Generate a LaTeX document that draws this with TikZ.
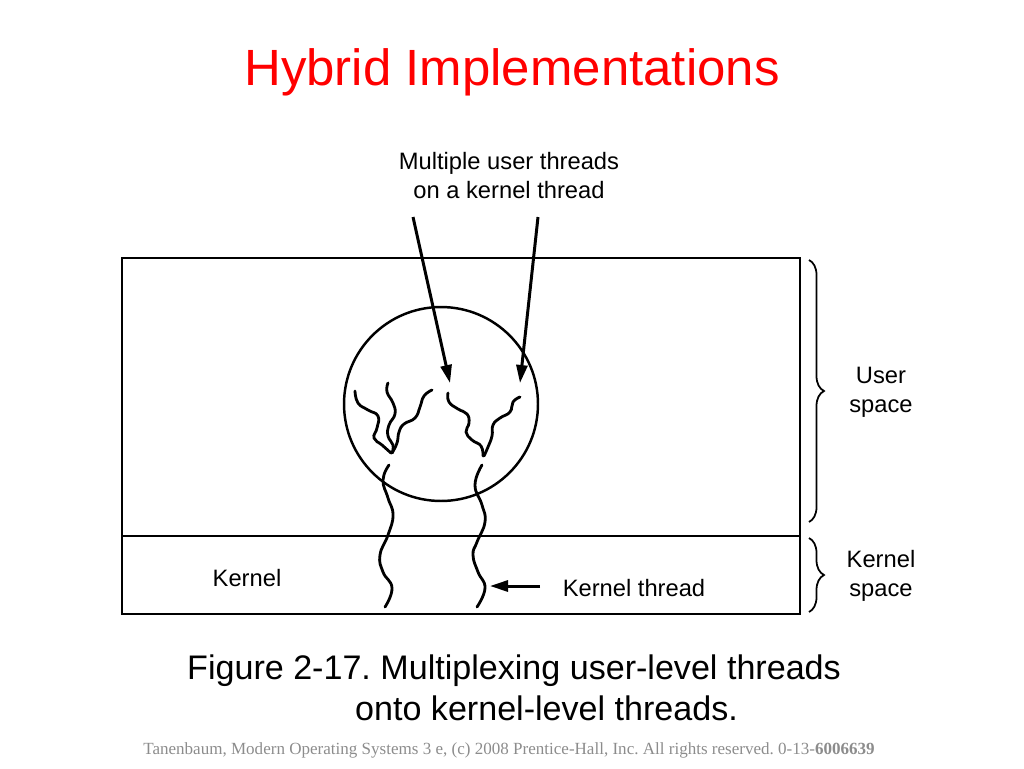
\documentclass[tikz,border=0pt]{standalone}
\usepackage{fontspec}
\setmainfont{Liberation Sans}
\newfontfamily\footfont{Liberation Serif}
\usepackage{xcolor}
\usetikzlibrary{arrows.meta,decorations.pathreplacing}
\frenchspacing

\definecolor{titlered}{RGB}{255,0,0}
\definecolor{footgray}{RGB}{140,140,140}

\begin{document}
\begin{tikzpicture}[x=0.02cm, y=-0.02cm, line width=1.4pt,
    wiggle/.style={line width=1.6pt, line cap=round, smooth, tension=0.8},
    pointer/.style={line width=1.7pt, -{Triangle[length=0.36cm, width=0.22cm]}},
    spacebrace/.style={decorate, decoration={brace, amplitude=0.3cm}, line width=1pt},
    lbl/.style={font=\fontsize{13.5}{16.5}\selectfont, inner sep=0pt, align=center}]
    \useasboundingbox (0,0) rectangle (1024,768);

    % title
    \node[anchor=base, text=titlered, font=\fontsize{29}{34}\selectfont] (title) at (512,85) {Hybrid Implementations};

    % process box: user space and kernel space
    \draw (122,258) rectangle (800,614);
    \draw (122,536) -- (800,536);

    % the process
    \node[draw, circle, minimum size=3.88cm, inner sep=0pt] (proc) at (441,404) {};

    % user threads
    \draw[wiggle] plot coordinates {(355,391) (358,403) (368,410) (378,416) (377,428) (374,438) (382,445) (391,453)};
    \draw[wiggle] plot coordinates {(388,383) (387,392) (393,403) (395,414) (389,425) (388,436) (393,445) (392,453)};
    \draw[wiggle] plot coordinates {(432,390) (424,396) (420,407) (415,418) (404,424) (399,432) (397,443) (392,453)};
    \draw[wiggle] plot coordinates {(448,393) (449,402) (458,409) (467,414) (469,423) (466,432) (472,440) (481,446) (483,456)};
    \draw[wiggle] plot coordinates {(520,397) (513,402) (510,412) (500,418) (493,425) (492,436) (488,447) (484,456)};

    % kernel threads
    \draw[wiggle] plot coordinates {(389,465) (383,480) (388,498) (393,515) (388,535) (380,555) (383,572) (392,588) (385,607)};
    \draw[wiggle] plot coordinates {(482,465) (475,485) (482,505) (485,522) (477,542) (473,555) (478,572) (485,588) (477,607)};

    % labels
    \node[lbl] (multi) at (509,176) {Multiple user threads\\on a kernel thread};
    \coordinate (a1) at (413,217);
    \coordinate (a1e) at (450,383);
    \coordinate (a2) at (538,217);
    \coordinate (a2e) at (520,383);
    \draw[pointer] (a1) -- (a1e);
    \draw[pointer] (a2) -- (a2e);

    \node[lbl] (kernel) at (247,578) {Kernel};
    \node[lbl] (kthread) at (634,588) {Kernel thread};
    \coordinate (kt) at (540,586);
    \coordinate (kte) at (490,586);
    \draw[pointer] (kt) -- (kte);

    % braces
    \coordinate (ub1) at (809,260);
    \coordinate (ub2) at (809,522);
    \coordinate (kb1) at (809,538);
    \coordinate (kb2) at (809,612);
    \draw[spacebrace] (ub1) -- (ub2);
    \draw[spacebrace] (kb1) -- (kb2);
    \node[lbl] (uspace) at (881,392) {User\\space};
    \node[lbl] (kspace) at (881,576) {Kernel\\space};

    % caption
    \node[anchor=base west, font=\fontsize{19.4}{23}\selectfont, align=left, inner sep=0pt] (caption) at (186,720)
        {Figure 2-17. Multiplexing user-level threads\\\hspace*{3.36cm}onto kernel-level threads.};

    % footer
    \node[text=footgray, font=\footfont\fontsize{9.7}{11}\selectfont] (foot) at (509,750)
        {Tanenbaum, Modern Operating Systems 3 e, (c) 2008 Prentice-Hall, Inc. All rights reserved. 0-13-\textbf{6006639}};
\end{tikzpicture}
\end{document}
